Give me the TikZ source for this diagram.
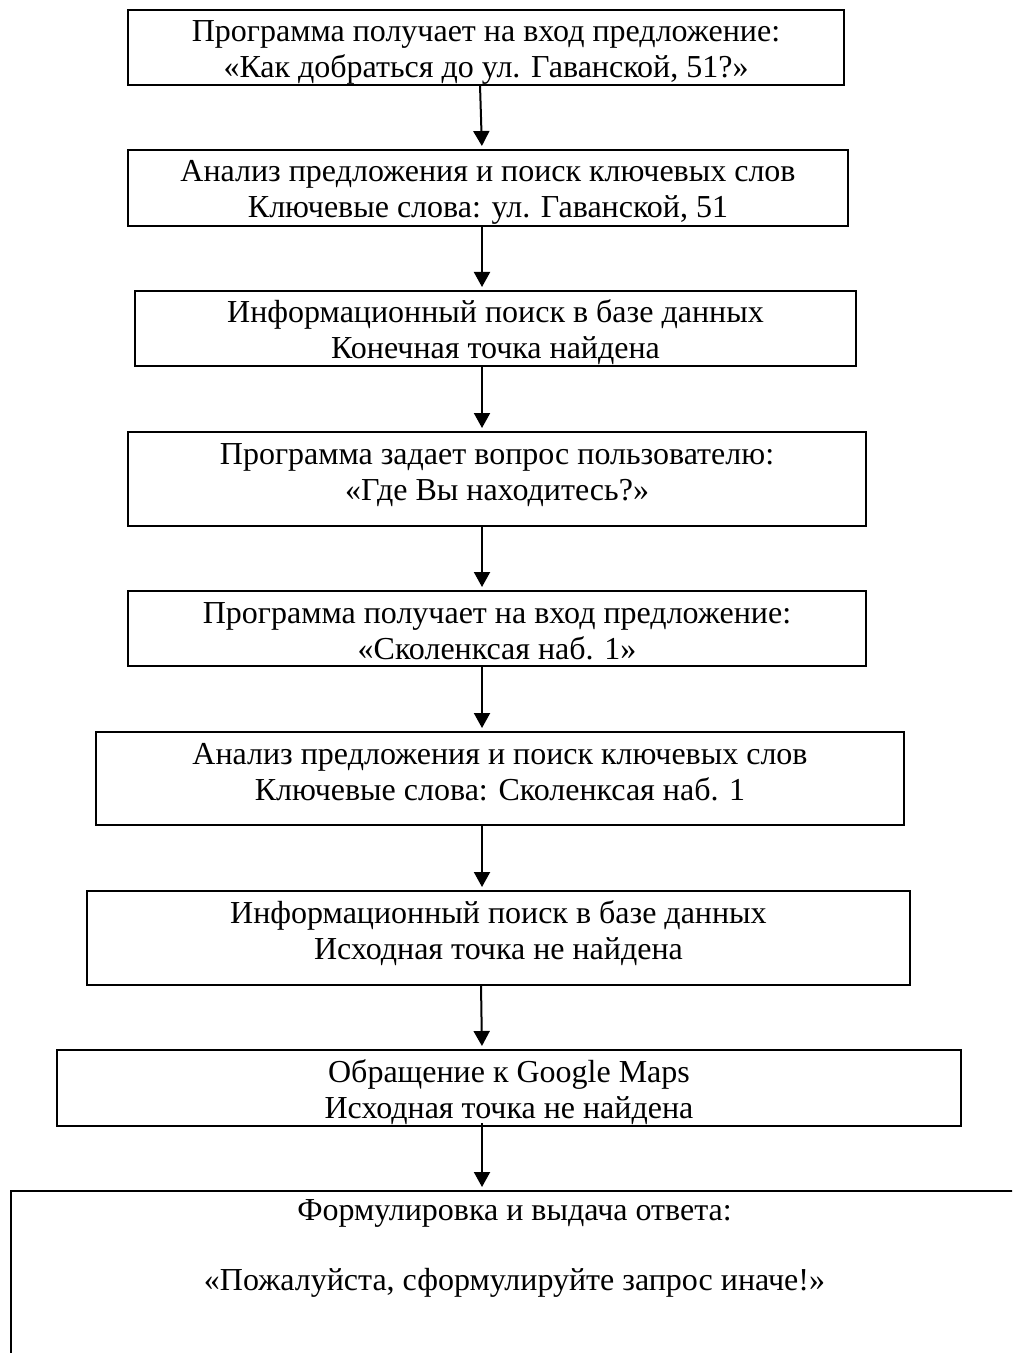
\documentclass[tikz,border=0pt]{standalone}
\usepackage{fontspec}
\setmainfont{Liberation Serif}
\usetikzlibrary{arrows.meta}
\newcommand{\boxtext}[4]{\parbox[c][\dimexpr#2pt/2\relax][t]{\dimexpr#1pt/2\relax}{\centering\rule{0pt}{#3pt}#4}}
\begin{document}
\begin{tikzpicture}[x=0.5pt,y=-0.5pt,
  box/.style={draw, line width=1pt, inner sep=0pt, outer sep=0pt, anchor=north west, font=\fontsize{16}{18}\selectfont},
  arr/.style={line width=1pt, -{Triangle[length=7.5pt,width=8pt]}, shorten >=2pt}]
\useasboundingbox (0,0) rectangle (1012,1353);
\clip (0,0) rectangle (1012,1353);
\fill[white] (0,0) rectangle (1012,1353);
\coordinate (ax) at (482,0);
\coordinate (ax0) at (480,0);
\coordinate (ax1) at (481,0);

\node[box] (b1) at (128,10) {\boxtext{716}{75}{16}{Программа получает на вход предложение:\\«Как добраться до ул. Гаванской, 51?»}};
\node[box] (b2) at (128,150) {\boxtext{720}{76}{16}{Анализ предложения и поиск ключевых слов\\Ключевые слова: ул. Гаванской, 51}};
\node[box] (b3) at (135,291) {\boxtext{721}{75}{16}{Информационный поиск в базе данных\\Конечная точка найдена}};
\node[box] (b4) at (128,432) {\boxtext{738}{94}{16}{Программа задает вопрос пользователю:\\«Где Вы находитесь?»}};
\node[box] (b5) at (128,591) {\boxtext{738}{75}{16}{Программа получает на вход предложение:\\«Сколенксая наб. 1»}};
\node[box] (b6) at (96,732) {\boxtext{808}{93}{16}{Анализ предложения и поиск ключевых слов\\Ключевые слова: Сколенксая наб. 1}};
\node[box] (b7) at (87,891) {\boxtext{823}{94}{16}{Информационный поиск в базе данных\\Исходная точка не найдена}};
\node[box] (b8) at (57,1050) {\boxtext{904}{76}{16}{Обращение к Google Maps\\Исходная точка не найдена}};
\node[box] (b9) at (11,1191) {\boxtext{1007}{330}{14.5}{Формулировка и выдача ответа:\\[17pt]«Пожалуйста, сформулируйте запрос иначе!»}};

\draw[arr] (b1.south -| ax0) -- (b2.north -| ax);
\draw[arr] (b2.south -| ax) -- (b3.north -| ax);
\draw[arr] (b3.south -| ax) -- (b4.north -| ax);
\draw[arr] (b4.south -| ax) -- (b5.north -| ax);
\draw[arr] (b5.south -| ax) -- (b6.north -| ax);
\draw[arr] (b6.south -| ax) -- (b7.north -| ax);
\draw[arr] (b7.south -| ax1) -- (b8.north -| ax);
\draw[arr, shorten <=-1.5pt] (b8.south -| ax) -- (b9.north -| ax);
\end{tikzpicture}
\end{document}
